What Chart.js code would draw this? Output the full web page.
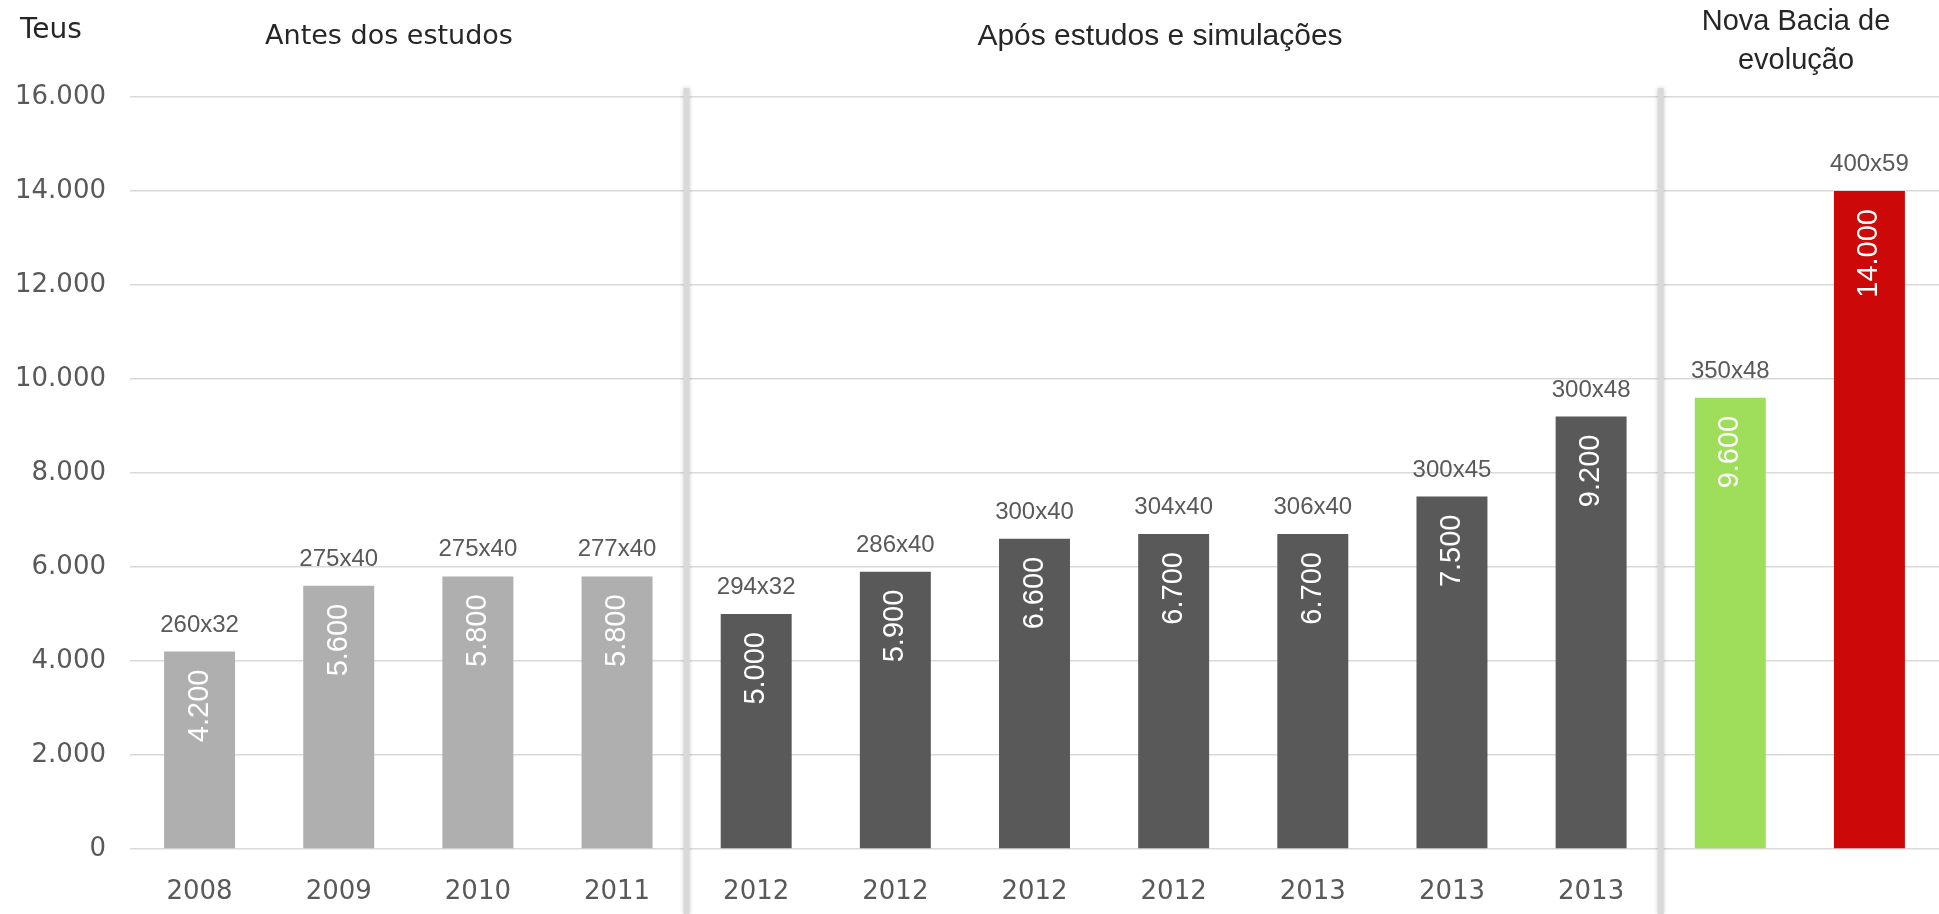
<!DOCTYPE html>
<html>
<head>
<meta charset="utf-8">
<script src="https://cdn.jsdelivr.net/npm/chart.js@4.4.1/dist/chart.umd.min.js"></script>
<style>
    body { margin: 0; background: #ffffff; }
    #wrap { width: 1939px; height: 914px; position: relative; }
</style>
</head>
<body>
<div id="wrap"><canvas id="teusChart"></canvas></div>
<script>
// data
const years = ['2008', '2009', '2010', '2011', '2012', '2012', '2012', '2012', '2013', '2013', '2013', '', ''];
const teus = [4200, 5600, 5800, 5800, 5000, 5900, 6600, 6700, 6700, 7500, 9200, 9600, 14000];
const shipSizes = ['260x32', '275x40', '275x40', '277x40', '294x32', '286x40', '300x40', '304x40', '306x40', '300x45', '300x48', '350x48', '400x59'];
const barColors = ['#afafaf', '#afafaf', '#afafaf', '#afafaf',
    '#595959', '#595959', '#595959', '#595959', '#595959', '#595959', '#595959',
    '#9fde5a', '#cc0808'];
const yTicks = [0, 2000, 4000, 6000, 8000, 10000, 12000, 14000, 16000];
const dividerAfter = [3, 10]; // vertical separators after these bars

function fmt(v) {
    // 16000 -> 16.000
    return String(v).replace(/\B(?=(\d{3})+(?!\d))/g, '.');
}

const labelPlugin = {
    id: 'labelPlugin',
    afterDatasetsDraw(chart) {
        const ctx = chart.ctx;
        const meta = chart.getDatasetMeta(0);
        const xs = chart.scales.x;

        // separators between the groups
        ctx.save();
        ctx.fillStyle = '#d9d9d9';
        ctx.shadowColor = 'rgba(0,0,0,0.2)';
        ctx.shadowBlur = 4;
        dividerAfter.forEach(function (i) {
            const x = (xs.getPixelForValue(i) + xs.getPixelForValue(i + 1)) / 2;
            ctx.fillRect(x - 3, 88, 6, chart.height - 88);
        });
        ctx.restore();

        meta.data.forEach(function (bar, i) {
            // ship size above the bar
            ctx.save();
            ctx.fillStyle = '#595959';
            ctx.font = '24px "Liberation Sans", Arial, sans-serif';
            ctx.textAlign = 'center';
            ctx.textBaseline = 'alphabetic';
            ctx.fillText(shipSizes[i], bar.x, bar.y - 20);
            ctx.restore();

            // value inside the bar, rotated
            ctx.save();
            ctx.translate(bar.x, bar.y + 18);
            ctx.rotate(-Math.PI / 2);
            ctx.fillStyle = '#ffffff';
            ctx.font = '29px "Liberation Sans", Arial, sans-serif';
            ctx.textAlign = 'right';
            ctx.textBaseline = 'middle';
            ctx.fillText(fmt(teus[i]), 0, 0);
            ctx.restore();
        });
    },
    afterDraw(chart) {
        const ctx = chart.ctx;
        ctx.save();
        ctx.fillStyle = '#262626';
        ctx.textBaseline = 'alphabetic';

        ctx.font = '28px "DejaVu Sans", sans-serif';
        ctx.textAlign = 'left';
        ctx.fillText('Teus', 20, 38);

        ctx.textAlign = 'center';
        ctx.font = '27px "DejaVu Sans", sans-serif';
        ctx.fillText('Antes dos estudos', 389, 44);

        ctx.font = '30px "Liberation Sans", Arial, sans-serif';
        ctx.fillText('Após estudos e simulações', 1160, 45);

        ctx.font = '29px "Liberation Sans", Arial, sans-serif';
        ctx.fillText('Nova Bacia de', 1796, 30);
        ctx.fillText('evolução', 1796, 69);
        ctx.restore();
    }
};

const tickFont = { family: '"DejaVu Sans", sans-serif', size: 26 };

new Chart(document.getElementById('teusChart'), {
    type: 'bar',
    data: {
        labels: years,
        datasets: [{
            label: 'Teus',
            data: teus,
            backgroundColor: barColors,
            borderWidth: 0,
            barPercentage: 0.51,
            categoryPercentage: 1
        }]
    },
    options: {
        responsive: true,
        maintainAspectRatio: false,
        animation: false,
        layout: { padding: { top: 97, left: 0, right: 0, bottom: 0 } },
        plugins: {
            legend: { display: false },
            tooltip: { enabled: false }
        },
        scales: {
            x: {
                grid: { display: false },
                border: { display: false },
                ticks: { font: tickFont, color: '#595959', padding: 20, maxRotation: 0 },
                afterFit: function (s) { s.height = 65; }
            },
            y: {
                min: 0,
                max: 16000,
                afterBuildTicks: function (s) { s.ticks = yTicks.map(function (v) { return { value: v }; }); },
                ticks: {
                    font: tickFont,
                    color: '#595959',
                    padding: 24,
                    callback: function (v) { return fmt(v); }
                },
                grid: { color: '#d9d9d9', lineWidth: 1.5, drawTicks: false },
                border: { display: false },
                afterFit: function (s) { s.width = 130; }
            }
        }
    },
    plugins: [labelPlugin]
});
</script>
</body>
</html>
